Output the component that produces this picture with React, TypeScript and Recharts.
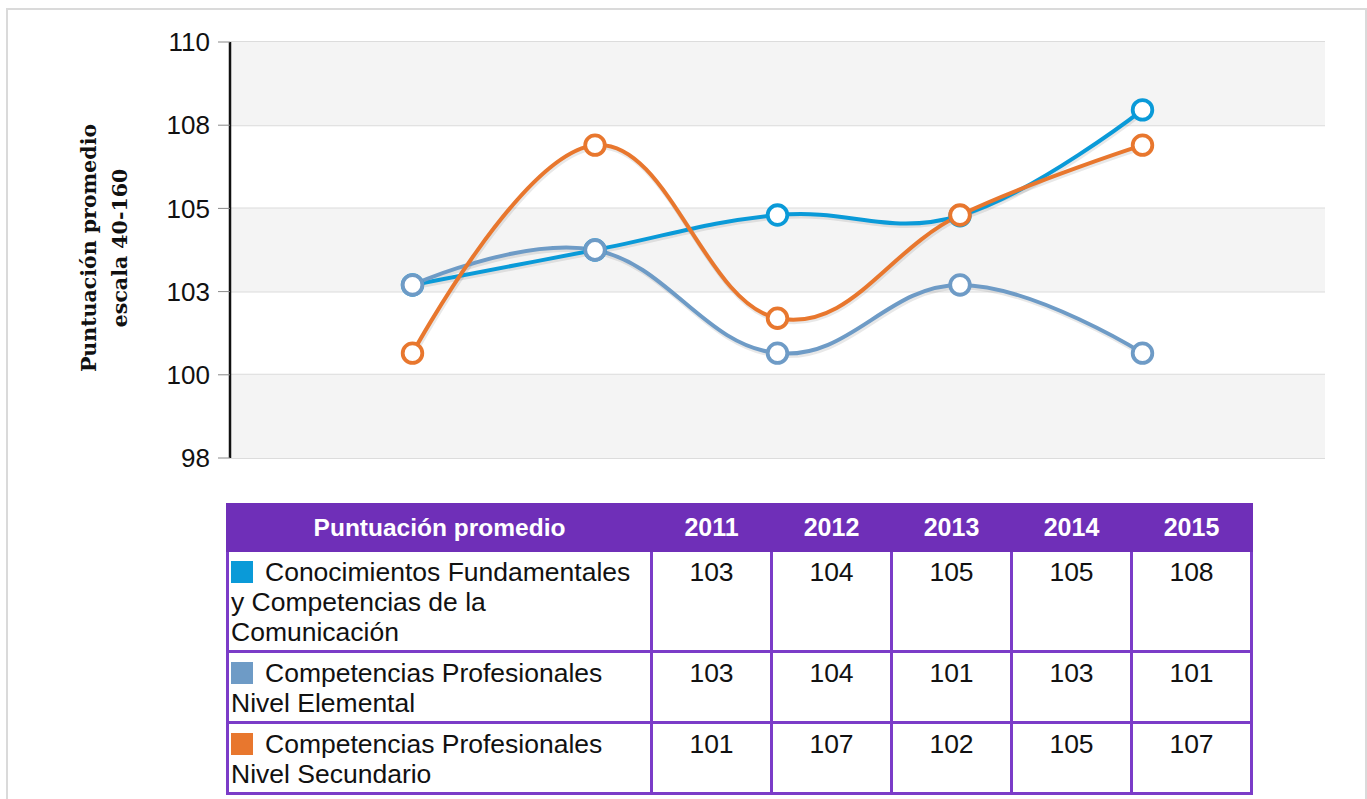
import React from 'react';
import { LineChart, Line, XAxis, YAxis, CartesianGrid, ReferenceArea } from 'recharts';

const years = [2011, 2012, 2013, 2014, 2015];
const seriesNames = [
  'Conocimientos Fundamentales y Competencias de la Comunicación',
  'Competencias Profesionales Nivel Elemental',
  'Competencias Profesionales Nivel Secundario',
];
const fundamentales = [102.7, 103.75, 104.8, 104.78, 107.96];
const elemental = [102.7, 103.75, 100.65, 102.7, 100.65];
const secundario = [100.65, 106.9, 101.7, 104.8, 106.9];
const seriesColors = ['#0a9ad8', '#6e9bc6', '#e8772e'];
const yTicks = [97.5, 100, 102.5, 105, 107.5, 110];
const yTickLabels = ['98', '100', '103', '105', '108', '110'];
const tableHeader = 'Puntuación promedio';
const yTitle = ['Puntuación promedio', 'escala 40-160'];

const seriesValues = [fundamentales, elemental, secundario];
const data = years.map((year, i) => ({
  year,
  s0: fundamentales[i],
  s1: elemental[i],
  s2: secundario[i],
}));

// shaded bands: every other interval between ticks, starting at the top
const bands: [number, number][] = [];
for (let i = yTicks.length - 1; i > 0; i -= 2) bands.push([yTicks[i - 1], yTicks[i]]);

function makeSpline(dx: number, dy: number) {
  return (context: any) => {
    let pts: [number, number][] = [];
    return {
      areaStart() {},
      areaEnd() {},
      lineStart() {
        pts = [];
      },
      point(x: number, y: number) {
        pts.push([+x + dx, +y + dy]);
      },
      lineEnd() {
        const n = pts.length;
        if (!n) return;
        const sm = 1.5;
        const den = sm + 1;
        const lc: [number, number][] = [];
        const rc: [number, number][] = [];
        for (let i = 0; i < n; i++) {
          const [x, y] = pts[i];
          if (i > 0 && i < n - 1) {
            const [lx, ly] = pts[i - 1];
            const [nx, ny] = pts[i + 1];
            const lcx = (sm * x + lx) / den;
            let lcy = (sm * y + ly) / den;
            const rcx = (sm * x + nx) / den;
            let rcy = (sm * y + ny) / den;
            let corr = 0;
            if (rcx !== lcx) corr = ((rcy - lcy) * (rcx - x)) / (rcx - lcx) + y - rcy;
            lcy += corr;
            rcy += corr;
            lc[i] = [lcx, lcy];
            rc[i] = [rcx, rcy];
          } else {
            lc[i] = [x, y];
            rc[i] = [x, y];
          }
        }
        context.moveTo(pts[0][0], pts[0][1]);
        for (let i = 1; i < n; i++) {
          context.bezierCurveTo(rc[i - 1][0], rc[i - 1][1], lc[i][0], lc[i][1], pts[i][0], pts[i][1]);
        }
      },
    };
  };
}

const spline = makeSpline(0, 0);
const shadowSpline = makeSpline(1, 2);

const YTitle = (props: any) => {
  const vb = props.viewBox || {};
  const cy = (vb.y || 0) + (vb.height || 0) / 2 - 2;
  const style = { fontFamily: "'DejaVu Serif', 'Liberation Serif', serif", fontWeight: 700, fontSize: 20.5, fill: '#111' } as any;
  return (
    <g>
      <text x={89} y={cy} transform={`rotate(-90, 89, ${cy})`} textAnchor="middle" dominantBaseline="central" style={style}>
        {yTitle[0]}
      </text>
      <text x={120} y={cy} transform={`rotate(-90, 120, ${cy})`} textAnchor="middle" dominantBaseline="central" style={style}>
        {yTitle[1]}
      </text>
    </g>
  );
};

const font = '"Liberation Sans", Arial, sans-serif';
const purple = '#6f2fb8';
const border = '3px solid #7b3cc8';

export default function App() {
  return (
    <div style={{ position: 'absolute', left: 0, top: 0, width: 1367, height: 799, background: '#fff', overflow: 'hidden' }}>
      <div
        style={{
          position: 'absolute',
          left: 6,
          top: 8,
          width: 1361,
          height: 800,
          border: '2px solid #dadada',
          boxSizing: 'border-box',
        }}
      />
      <div style={{ position: 'absolute', left: 0, top: 0 }}>
        <LineChart width={1367} height={480} data={data} margin={{ top: 42, right: 42, bottom: 22, left: 130 }}>
          <XAxis dataKey="year" type="number" domain={[2010, 2016]} hide />
          <YAxis
            type="number"
            domain={[97.5, 110]}
            ticks={yTicks}
            interval={0}
            width={100}
            axisLine={{ stroke: '#111', strokeWidth: 2.5 }}
            tickLine={{ stroke: '#888', strokeWidth: 1 }}
            tickSize={12}
            tickMargin={8}
            tickFormatter={(v: number) => yTickLabels[yTicks.indexOf(v)]}
            tick={{ fill: '#111', fontSize: 26, fontFamily: font }}
            label={{ content: YTitle } as any}
          />
          {bands.map(([a, b], i) => (
            <ReferenceArea key={'band' + i} y1={a} y2={b} fill="#f4f4f4" fillOpacity={1} stroke="none" ifOverflow="visible" />
          ))}
          <CartesianGrid vertical={false} stroke="#dcdcdc" strokeWidth={2} />
          {seriesValues.map((_, k) => (
            <Line
              key={'sh' + k}
              dataKey={'s' + k}
              type={shadowSpline as any}
              stroke="rgba(0,0,0,0.09)"
              strokeWidth={5}
              dot={false}
              activeDot={false}
              isAnimationActive={false}
              legendType="none"
            />
          ))}
          {seriesValues.map((_, k) => (
            <Line
              key={'ln' + k}
              dataKey={'s' + k}
              name={seriesNames[k]}
              type={spline as any}
              stroke={seriesColors[k]}
              strokeWidth={4}
              dot={{ r: 9.8, fill: '#fff', stroke: seriesColors[k], strokeWidth: 3.8 }}
              activeDot={false}
              isAnimationActive={false}
            />
          ))}
        </LineChart>
      </div>
      <table
        style={{
          position: 'absolute',
          left: 226,
          top: 503,
          width: 1021,
          borderCollapse: 'collapse',
          tableLayout: 'fixed',
          fontFamily: font,
          fontSize: 26.5,
          color: '#111',
        }}
      >
        <colgroup>
          <col style={{ width: 424 }} />
          {years.map((y) => (
            <col key={y} style={{ width: 120 }} />
          ))}
        </colgroup>
        <thead>
          <tr style={{ height: 46, background: purple, color: '#fff' }}>
            <th style={{ fontWeight: 700, fontSize: 24.5, textAlign: 'center', border: `3px solid ${purple}`, padding: 0 }}>{tableHeader}</th>
            {years.map((y) => (
              <th key={y} style={{ fontWeight: 700, fontSize: 25, textAlign: 'center', border: `3px solid ${purple}`, padding: 0 }}>
                {y}
              </th>
            ))}
          </tr>
        </thead>
        <tbody>
          {seriesNames.map((name, k) => (
            <tr key={name} style={{ height: k === 0 ? 101 : 71 }}>
              <td style={{ border, verticalAlign: 'top', padding: '5px 12px 2px 2px', lineHeight: '30px' }}>
                <span
                  style={{
                    display: 'inline-block',
                    width: 22,
                    height: 22,
                    background: seriesColors[k],
                    marginRight: 12,
                    verticalAlign: '-2px',
                  }}
                />
                {name}
              </td>
              {seriesValues[k].map((v, i) => (
                <td key={i} style={{ border, verticalAlign: 'top', textAlign: 'center', padding: '5px 2px 2px 2px', lineHeight: '30px' }}>
                  {Math.round(v)}
                </td>
              ))}
            </tr>
          ))}
        </tbody>
      </table>
    </div>
  );
}
